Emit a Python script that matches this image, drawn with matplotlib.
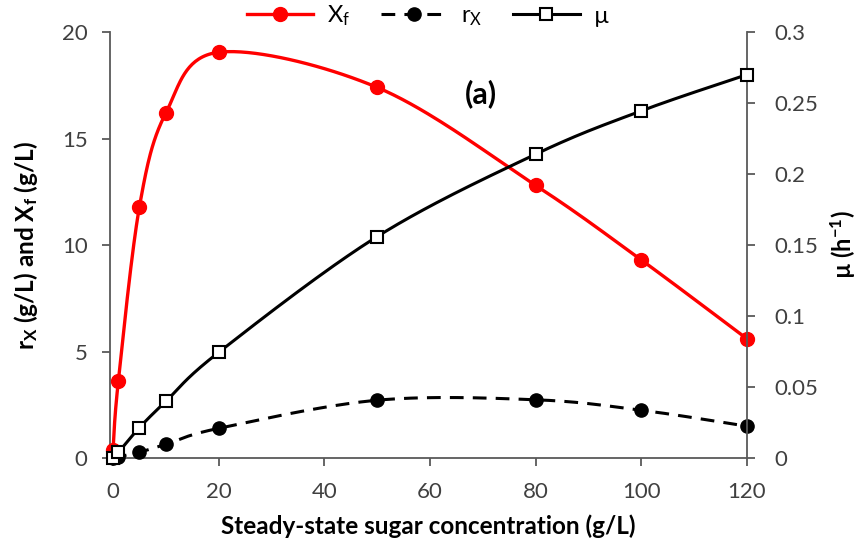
import numpy as np
import matplotlib
matplotlib.use("Agg")
import matplotlib.pyplot as plt
from matplotlib.lines import Line2D

plt.rcParams['font.family'] = ['Lato', 'DejaVu Sans']
plt.rcParams['mathtext.fontset'] = 'custom'
plt.rcParams['mathtext.rm'] = 'Lato'
plt.rcParams['mathtext.it'] = 'Lato'
plt.rcParams['mathtext.bf'] = 'Lato:bold'

# Data
sugar = [0, 1, 5, 10, 20, 50, 80, 100, 120]
xf = [0.38, 3.6, 11.8, 16.2, 19.05, 17.4, 12.8, 9.3, 5.6]
rx = [0.0, 0.06, 0.28, 0.65, 1.4, 2.72, 2.74, 2.25, 1.5]
mu = [0.0, 0.004, 0.0215, 0.040, 0.0745, 0.156, 0.214, 0.2445, 0.270]

x_ticks = [0, 20, 40, 60, 80, 100, 120]
left_ticks = [0, 5, 10, 15, 20]
right_ticks = [0, 0.05, 0.1, 0.15, 0.2, 0.25, 0.3]
right_labels = ['0', '0.05', '0.1', '0.15', '0.2', '0.25', '0.3']


def smooth(xs, ys, n=40):
    """Excel-like smoothed line: Catmull-Rom Bezier segments."""
    P = np.column_stack([xs, ys]).astype(float)
    m = len(P)
    out = []
    for i in range(m - 1):
        p0 = P[i - 1] if i > 0 else P[i]
        p1 = P[i]
        p2 = P[i + 1]
        p3 = P[i + 2] if i + 2 < m else P[i + 1]
        c1 = p1 + (p2 - p0) / 6.0
        c2 = p2 - (p3 - p1) / 6.0
        t = np.linspace(0, 1, n)[:, None]
        seg = ((1 - t) ** 3) * p1 + 3 * ((1 - t) ** 2) * t * c1 + 3 * (1 - t) * t ** 2 * c2 + t ** 3 * p2
        out.append(seg if i == 0 else seg[1:])
    arr = np.vstack(out)
    return arr[:, 0], arr[:, 1]


fig = plt.figure(figsize=(8.65, 5.52), dpi=100)
ax = fig.add_axes([0.127, 0.170, 0.7366, 0.772])
ax2 = ax.twinx()

spine_c = '#595959'
tick_c = '#404040'

red = '#ff0000'
sx, sy = smooth(sugar, xf)
ax.plot(sx, sy, color=red, lw=2.4, zorder=3, clip_on=False)
ax.plot(sugar, xf, 'o', color=red, ms=10, zorder=4, clip_on=False)

sx, sy = smooth(sugar, rx)
ax.plot(sx, sy, color='black', lw=2.2, dashes=(4.5, 3), zorder=3, clip_on=False)
ax.plot(sugar, rx, 'o', color='black', ms=9.5, zorder=4, clip_on=False)

sx, sy = smooth(sugar, mu)
ax2.plot(sx, sy, color='black', lw=2.2, zorder=3, clip_on=False)
ax2.plot(sugar, mu, 's', color='black', mfc='white', mew=1.5, ms=8.5, zorder=4, clip_on=False)

ax.set_xlim(-0.6, 120)
ax.set_ylim(0, 20)
ax2.set_ylim(0, 0.3)
ax.set_xticks(x_ticks)
ax.set_yticks(left_ticks)
ax2.set_yticks(right_ticks)
ax2.set_yticklabels(right_labels)

for a in (ax, ax2):
    a.spines['top'].set_visible(False)
    for s in a.spines.values():
        s.set_color(spine_c)
        s.set_linewidth(1.3)
    a.tick_params(axis='both', colors=spine_c, labelcolor=tick_c, labelsize=16,
                  length=6, width=1.3, direction='out')
ax.spines['right'].set_visible(False)
ax2.spines['left'].set_visible(False)
ax2.spines['bottom'].set_visible(False)
ax.tick_params(axis='x', pad=11)
ax.tick_params(axis='y', pad=10)
ax2.tick_params(axis='y', pad=14)

ax.set_xlabel('Steady-state sugar concentration (g/L)', fontsize=17.5, fontweight='bold',
              color='black', labelpad=9)
ax.set_ylabel(r'r$_\mathbf{X}$ (g/L) and X$_\mathbf{f}$ (g/L)', fontsize=17.5,
              fontweight='bold', color='black', labelpad=16)
ax2.set_ylabel('\u00b5 (h$^{\\mathbf{-1}}$)', fontsize=17, fontweight='bold',
               color='black', labelpad=7)

ax.text(69.6, 17.1, '(a)', fontsize=22, fontweight='bold', ha='center', va='center')

handles = [
    Line2D([], [], color=red, lw=2.4, marker='o', ms=10),
    Line2D([], [], color='black', lw=2.2, dashes=(4.5, 3), marker='o', ms=9.5),
    Line2D([], [], color='black', lw=2.2, marker='s', mfc='white', mew=1.5, ms=8.5),
]
labels = ['X$_\\mathregular{f}$', 'r$_\\mathregular{X}$', '\u00b5']
fig.legend(handles, labels, loc='center', bbox_to_anchor=(428 / 865, 1 - 16 / 552),
           ncol=3, frameon=False, fontsize=17, handlelength=2.8, columnspacing=1.3,
           handletextpad=0.6)

fig.savefig('out.png', dpi=100)
